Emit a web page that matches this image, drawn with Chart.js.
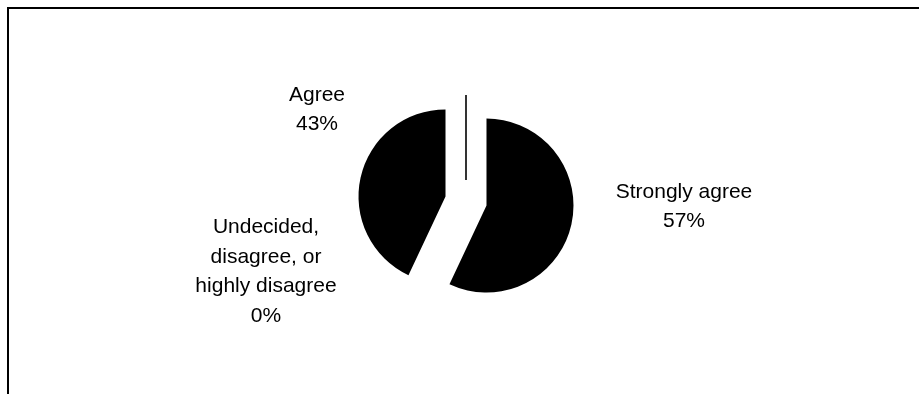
<!DOCTYPE html>
<html>
<head>
<meta charset="utf-8">
<script src="https://cdn.jsdelivr.net/npm/chart.js@4.4.1/dist/chart.umd.min.js"></script>
<style>
  html, body { margin: 0; padding: 0; background: #fff; }
  #wrap { width: 919px; height: 394px; position: relative; }
</style>
</head>
<body>
<div id="wrap"><canvas id="pastel"></canvas></div>
<script>
// datos
var categorias = ['Strongly agree', 'Agree', 'Undecided, disagree, or highly disagree'];
var porcentajes = [57, 43, 0];
// como se parten las etiquetas en el grafico
var lineasEtiqueta = [['Strongly agree'], ['Agree'], ['Undecided,', 'disagree, or', 'highly disagree']];

var fuente = '21px "Liberation Sans", Arial, sans-serif';
var separacion = 21;   // cuanto se aleja cada porcion del centro
var altoLinea = 29.5;
// donde va la primera linea base de cada etiqueta (x centro, y base)
var posEtiquetas = [{x: 684, y: 197.5}, {x: 317, y: 100.5}, {x: 266, y: 233}];

// separa las porciones como en excel
var explotar = {
  id: 'explotar',
  afterDatasetUpdate: function(chart, args) {
    args.meta.data.forEach(function(arc) {
      var medio = (arc.startAngle + arc.endAngle) / 2;
      arc.x += Math.cos(medio) * separacion;
      arc.y += Math.sin(medio) * separacion;
    });
  }
};

var marcoYEtiquetas = {
  id: 'marcoYEtiquetas',
  afterDraw: function(chart) {
    var ctx = chart.ctx;
    ctx.save();
    // marco (solo arriba e izquierda)
    ctx.fillStyle = '#000';
    ctx.fillRect(7, 7, chart.width, 2);
    ctx.fillRect(7, 7, 2, chart.height);

    var meta = chart.getDatasetMeta(0);
    // la porcion de 0% se ve como una raya
    meta.data.forEach(function(arc, i) {
      if (porcentajes[i] !== 0) return;
      var a = arc.startAngle;
      ctx.strokeStyle = '#000';
      ctx.lineWidth = 1.6;
      ctx.beginPath();
      ctx.moveTo(arc.x, arc.y);
      ctx.lineTo(arc.x + Math.cos(a) * (arc.outerRadius - 2), arc.y + Math.sin(a) * (arc.outerRadius - 2));
      ctx.stroke();
    });

    ctx.font = fuente;
    ctx.textAlign = 'center';
    ctx.textBaseline = 'alphabetic';
    ctx.fillStyle = '#000';
    lineasEtiqueta.forEach(function(lineas, i) {
      var p = posEtiquetas[i];
      var todas = lineas.concat([porcentajes[i] + '%']);
      todas.forEach(function(txt, j) {
        ctx.fillText(txt, p.x, p.y + j * altoLinea);
      });
    });
    ctx.restore();
  }
};

var pastel = new Chart(document.getElementById('pastel'), {
  type: 'pie',
  data: {
    labels: categorias,
    datasets: [{
      data: porcentajes,
      backgroundColor: '#000',
      borderWidth: 0
    }]
  },
  options: {
    responsive: true,
    maintainAspectRatio: false,
    animation: false,
    radius: 87,
    layout: { padding: { left: 13, top: 8, right: 0, bottom: 0 } },
    plugins: {
      legend: { display: false },
      tooltip: { enabled: false }
    }
  },
  plugins: [explotar, marcoYEtiquetas]
});
</script>
</body>
</html>
